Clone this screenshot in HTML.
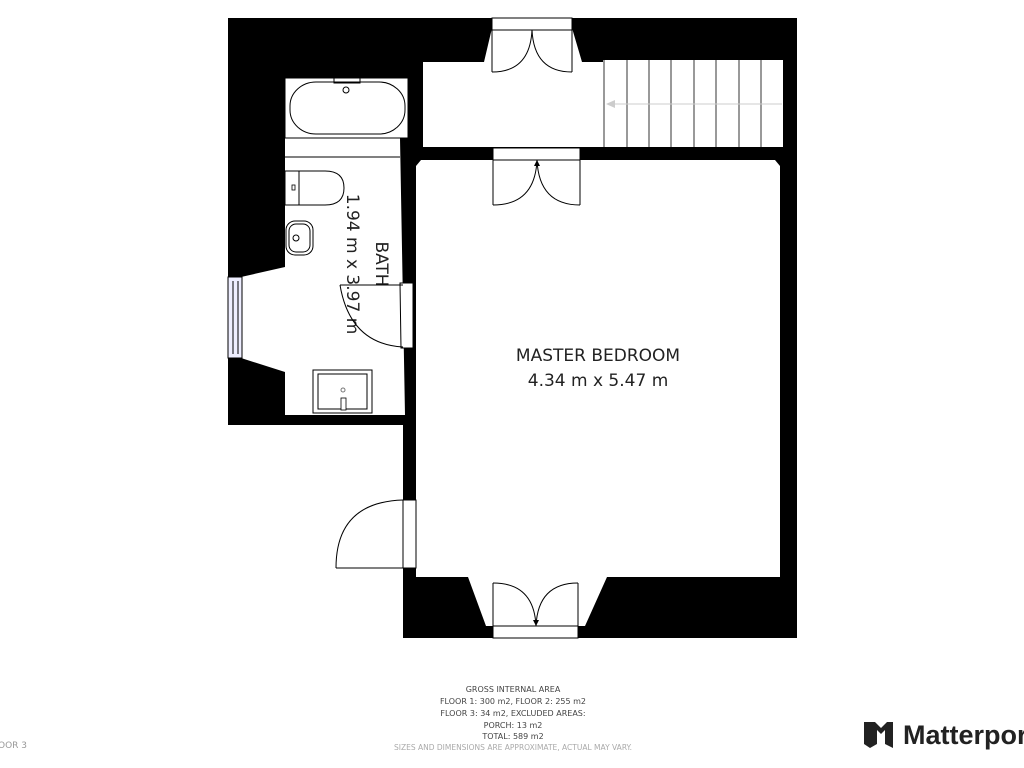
<!DOCTYPE html>
<html><head><meta charset="utf-8"><style>
html,body{margin:0;padding:0;background:#fff;}
svg{display:block;}
</style></head><body>
<svg width="1024" height="768" viewBox="0 0 1024 768" xmlns="http://www.w3.org/2000/svg" font-family="'DejaVu Sans','Liberation Sans',sans-serif">
<rect width="1024" height="768" fill="#fff"/>
<polygon points="228,18 797,18 797,638 403,638 403,425 228,425" fill="#000"/>
<polygon points="492,18 572,18 572,28 582,62 484,62 492,28" fill="#fff"/>
<rect x="492" y="18" width="80" height="12" fill="#fff" stroke="#000" stroke-width="1"/>
<rect x="423" y="62" width="180" height="85" fill="#fff"/>
<rect x="603" y="60" width="180" height="87" fill="#fff"/>
<g stroke="#333" stroke-width="1">
<line x1="604" y1="60" x2="604" y2="147"/><line x1="627" y1="60" x2="627" y2="147"/><line x1="649" y1="60" x2="649" y2="147"/><line x1="671" y1="60" x2="671" y2="147"/><line x1="694" y1="60" x2="694" y2="147"/><line x1="716" y1="60" x2="716" y2="147"/><line x1="739" y1="60" x2="739" y2="147"/><line x1="761" y1="60" x2="761" y2="147"/>
</g>
<line x1="612" y1="104" x2="782" y2="104" stroke="#ccc" stroke-width="1"/>
<polygon points="606,104 615,100 615,108" fill="#ccc"/>
<g fill="none" stroke="#000" stroke-width="1">
<line x1="492" y1="30" x2="492" y2="72"/><line x1="572" y1="30" x2="572" y2="72"/>
<path d="M492,72 Q530,72 532,30"/><path d="M572,72 Q534,72 532,30"/>
</g>
<polygon points="416,160 780,160 780,577 607,577 585,626 486,626 468,577 416,577" fill="#fff"/>
<rect x="493" y="148" width="87" height="12" fill="#fff" stroke="#000" stroke-width="1"/>
<g fill="none" stroke="#000" stroke-width="1">
<line x1="493" y1="160" x2="493" y2="205"/><line x1="580" y1="160" x2="580" y2="205"/>
<path d="M493,205 Q535,205 537,160"/><path d="M580,205 Q539,205 537,160"/>
</g>
<polygon points="537,160 534,166 540,166" fill="#000"/>
<polygon points="416,160 416,166 421,160" fill="#000"/>
<polygon points="780,160 780,166 775,160" fill="#000"/>
<rect x="493" y="626" width="85" height="12" fill="#fff" stroke="#000" stroke-width="1"/>
<g fill="none" stroke="#000" stroke-width="1">
<line x1="493" y1="626" x2="493" y2="583"/><line x1="578" y1="626" x2="578" y2="583"/>
<path d="M493,583 Q534,583 536,626"/><path d="M578,583 Q538,583 536,626"/>
</g>
<polygon points="536,626 533,620 539,620" fill="#000"/>
<rect x="403" y="500" width="13" height="68" fill="#fff" stroke="#000" stroke-width="1"/>
<g fill="none" stroke="#000" stroke-width="1">
<line x1="336" y1="568" x2="403" y2="568"/>
<path d="M336,568 Q336,502 403,500"/>
</g>
<polygon points="285,78 408,78 408,138 400,138 405,415 285,415 285,372 241,358 241,277 285,267" fill="#fff"/>
<rect x="285" y="78" width="123" height="60" fill="#fff" stroke="#000" stroke-width="1"/>
<line x1="285" y1="157" x2="400" y2="157" stroke="#000" stroke-width="1"/>
<rect x="290" y="82" width="115" height="52" rx="26" ry="24" fill="#fff" stroke="#000" stroke-width="1"/>
<rect x="334" y="78" width="26" height="5" fill="none" stroke="#000" stroke-width="1"/>
<circle cx="346" cy="90" r="3" fill="none" stroke="#000"/>
<rect x="285" y="171" width="14" height="34" fill="none" stroke="#000"/>
<path d="M299,171 L325,171 Q344,171 344,188 Q344,205 325,205 L299,205" fill="none" stroke="#000"/>
<rect x="292" y="185" width="3" height="5" fill="none" stroke="#000" stroke-width="0.8"/>
<rect x="286" y="221" width="27" height="34" rx="9" fill="none" stroke="#000"/>
<rect x="289" y="224" width="21" height="28" rx="7" fill="none" stroke="#000"/>
<circle cx="296" cy="238" r="3" fill="none" stroke="#000"/>
<rect x="313" y="370" width="59" height="43" fill="none" stroke="#000"/>
<rect x="318" y="374" width="49" height="35" fill="none" stroke="#000"/>
<circle cx="343" cy="390" r="2" fill="none" stroke="#777"/>
<rect x="341" y="398" width="5" height="12" fill="#fff" stroke="#000" stroke-width="0.8"/>
<rect x="228" y="277" width="14" height="81" fill="#eef" stroke="#000" stroke-width="1"/>
<line x1="233" y1="281" x2="233" y2="354" stroke="#000"/><line x1="238" y1="281" x2="238" y2="354" stroke="#000"/>
<polygon points="400,283 413,283 413,348 401,348" fill="#fff" stroke="#000" stroke-width="1"/>
<text transform="translate(376,264) rotate(90)" font-size="17" text-anchor="middle" fill="#222">BATH</text>
<text transform="translate(347,264) rotate(90)" font-size="17" text-anchor="middle" fill="#222">1.94 m x 3.97 m</text>
<g fill="none" stroke="#000" stroke-width="1">
<line x1="340" y1="285" x2="403" y2="285"/>
<path d="M340,285 Q350,344 403,347"/>
</g>
<text x="598" y="361" font-size="17" text-anchor="middle" fill="#222">MASTER BEDROOM</text>
<text x="598" y="386" font-size="17" text-anchor="middle" fill="#222">4.34 m x 5.47 m</text>
<g font-size="8" text-anchor="middle" fill="#444">
<text x="513" y="692">GROSS INTERNAL AREA</text>
<text x="513" y="704">FLOOR 1: 300 m2, FLOOR 2: 255 m2</text>
<text x="513" y="716">FLOOR 3: 34 m2, EXCLUDED AREAS:</text>
<text x="513" y="728">PORCH: 13 m2</text>
<text x="513" y="739">TOTAL: 589 m2</text>
<text x="513" y="750" fill="#aaa" font-size="7.5">SIZES AND DIMENSIONS ARE APPROXIMATE, ACTUAL MAY VARY.</text>
</g>
<text x="-2" y="748" font-size="9" fill="#999">OOR 3</text>
<polygon points="864,722 875,722 881,728 887,722 893,722 893,748 885,744 885,730 881,734 877,730 877,744 870,748 864,744" fill="#222"/>
<text x="903" y="744" font-size="27" font-weight="bold" fill="#222" font-family="'Liberation Sans',sans-serif">Matterport</text>
</svg>
</body></html>
